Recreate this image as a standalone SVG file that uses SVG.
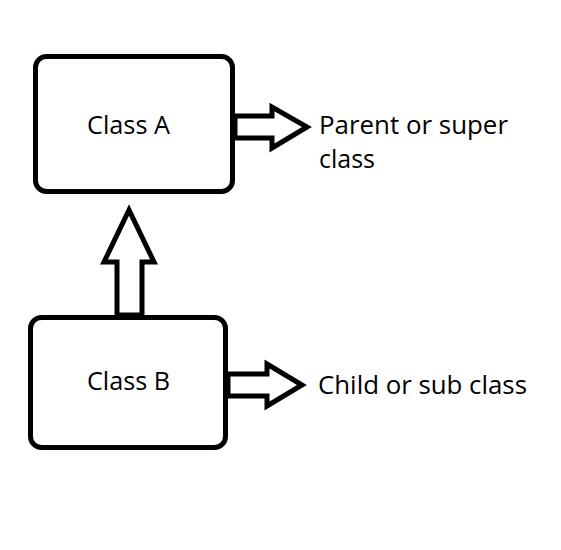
<svg xmlns="http://www.w3.org/2000/svg" width="561" height="550" viewBox="0 0 561 550">
<style>
.box{fill:#fff;stroke:#000;stroke-width:5}
.arr{fill:#fff;stroke:#000;stroke-width:5;stroke-linejoin:miter}
text{font-family:"Open Sans","Liberation Sans",sans-serif;font-size:25.5px;fill:#000}
</style>
<rect width="561" height="550" fill="#fff"/>
<g id="connectors">
<polygon class="arr" points="235,116 272,116 272,107 307,127 272,148 272,138 235,138"/>
<polygon class="arr" points="117,315 117,262 104,262 129,210 154,262 142,262 142,315"/>
<polygon class="arr" points="228,374 267,374 267,364 302,385 267,406 267,396 228,396"/>
</g>
<g id="classA">
<rect class="box" x="35.5" y="56.5" width="197" height="135" rx="11"/>
<text x="87" y="134" textLength="83" lengthAdjust="spacingAndGlyphs">Class A</text>
</g>
<g id="classB">
<rect class="box" x="30.5" y="317.5" width="195" height="130" rx="11"/>
<text x="87" y="390" textLength="83" lengthAdjust="spacingAndGlyphs">Class B</text>
</g>
<g id="labelParent">
<text x="319" y="134" textLength="189" lengthAdjust="spacingAndGlyphs">Parent or super</text>
<text x="319" y="168" textLength="56" lengthAdjust="spacingAndGlyphs">class</text>
</g>
<g id="labelChild">
<text x="318" y="394" textLength="209" lengthAdjust="spacingAndGlyphs">Child or sub class</text>
</g>
</svg>
